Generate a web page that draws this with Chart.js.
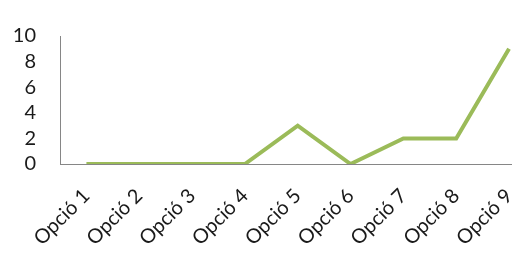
<!DOCTYPE html>
<html lang="ca">
<head>
<meta charset="UTF-8">
<title>Opcions</title>
<script src="https://cdn.jsdelivr.net/npm/chart.js"></script>
<style>
  html, body { margin: 0; padding: 0; background: #fff; overflow: hidden; }
  #wrap { width: 546px; height: 256px; }
</style>
</head>
<body>
<div id="wrap"><canvas id="chart"></canvas></div>
<script>
const categories = ['Opció 1', 'Opció 2', 'Opció 3', 'Opció 4', 'Opció 5', 'Opció 6', 'Opció 7', 'Opció 8', 'Opció 9'];
const values = [0, 0, 0, 0, 3, 0, 2, 2, 9];
const yTicks = [0, 2, 4, 6, 8, 10];

const axisGrey = '#868686';
const textColor = '#1a1a1a';

new Chart(document.getElementById('chart'), {
  type: 'line',
  data: {
    labels: categories,
    datasets: [{
      data: values,
      borderColor: '#9BBB59',
      borderWidth: 4,
      pointRadius: 0,
      tension: 0,
      fill: false
    }]
  },
  options: {
    responsive: true,
    maintainAspectRatio: false,
    animation: false,
    layout: { padding: { top: 23, right: 0, left: 0, bottom: 0 } },
    plugins: { legend: { display: false }, tooltip: { enabled: false } },
    scales: {
      x: {
        offset: true,
        grid: { display: false, drawTicks: false },
        border: { display: true, color: axisGrey, width: 1 },
        ticks: {
          color: textColor,
          font: { family: 'Lato', size: 20 },
          minRotation: 45, maxRotation: 45,
          padding: 20,
          autoSkip: false
        },
        afterFit: s => { s.height = 92; }
      },
      y: {
        min: 0, max: 10,
        afterBuildTicks: s => { s.ticks = yTicks.map(v => ({ value: v })); },
        grid: { display: false, drawTicks: false },
        border: { display: true, color: axisGrey, width: 1 },
        ticks: {
          color: textColor,
          font: { family: 'Lato', size: 20 },
          padding: 24,
          autoSkip: false
        },
        afterFit: s => { s.width = 60; }
      }
    }
  }
});
</script>
</body>
</html>
